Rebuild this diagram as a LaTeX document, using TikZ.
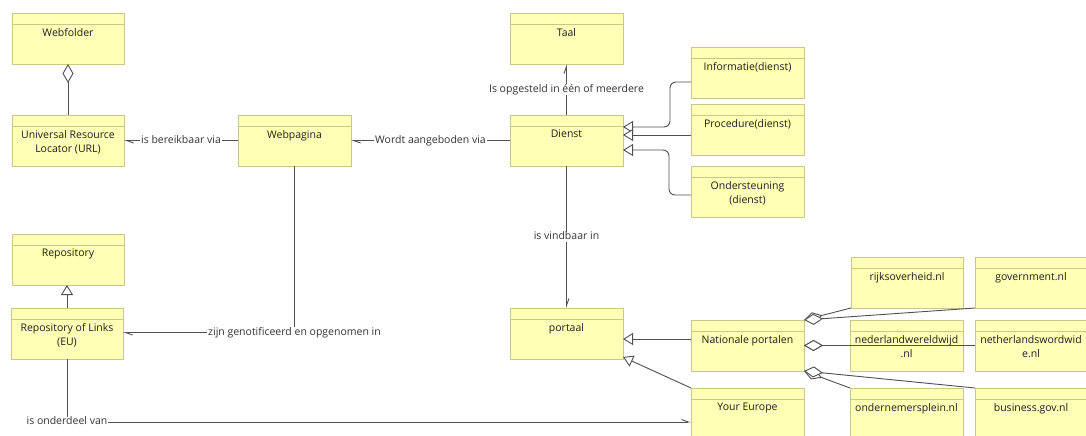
\documentclass[tikz,border=0pt]{standalone}
\usepackage{fontspec}
\setmainfont{Open Sans}
\usetikzlibrary{arrows.meta}

\definecolor{clsfill}{HTML}{FFFFB5}
\definecolor{clsline}{HTML}{C8C88A}
\definecolor{conn}{HTML}{505050}
\definecolor{txt}{HTML}{1E1E1E}
\definecolor{lbltxt}{HTML}{333333}

\newcommand\clsfont{\fontsize{10.5}{14}\selectfont}

\tikzset{
  x=1pt, y=-1pt,
  cls/.style={draw=clsline, fill=clsfill, line width=0.8pt, anchor=north west,
    minimum width=112pt, minimum height=51pt, inner sep=0pt, outer sep=0pt,
    path picture={\draw[clsline, line width=0.8pt]
      ([yshift=-11pt]path picture bounding box.north west) --
      ([yshift=-11pt]path picture bounding box.north east);}},
  wide/.style={minimum width=113pt},
  title/.style={label={[anchor=north, yshift=-15pt, align=center,
    font=\clsfont, text=txt, inner sep=0pt]north:{#1}}},
  lbl/.style={fill=white, inner xsep=1pt, inner ysep=0.5pt, font=\clsfont,
    text=lbltxt, text height=7.5pt, text depth=2pt},
  conline/.style={draw=conn, line width=0.9pt},
  assoc/.style={conline, -{Straight Barb[harpoon, length=7pt, width=5pt]}},
  gen/.style={conline, -{Triangle[fill=white, length=10pt, width=12pt]}},
  agg/.style={conline, {Diamond[fill=white, length=19pt, width=11pt]}-},
}

\begin{document}
\begin{tikzpicture}
\useasboundingbox (0,0) rectangle (1086,436);
\fill[white] (0,0) rectangle (1086,436);
\clip (0,0) rectangle (1086,436);

% classes
\node[cls, title=Webfolder] (webfolder) at (12,13) {};
\node[cls, title={Universal Resource\\Locator (URL)}] (url) at (12,115) {};
\node[cls, wide, title=Webpagina] (webpagina) at (238,115) {};
\node[cls, wide, title=Taal] (taal) at (510,13) {};
\node[cls, wide, title=Dienst] (dienst) at (510,115) {};
\node[cls, wide, title=Informatie(dienst)] (info) at (691,47) {};
\node[cls, wide, title=Procedure(dienst)] (proc) at (691,104) {};
\node[cls, wide, title={Ondersteuning\\(dienst)}] (onder) at (691,166) {};
\node[cls, title=Repository] (repo) at (12,234) {};
\node[cls, title={Repository of Links\\(EU)}] (rol) at (11,308) {};
\node[cls, wide, title=portaal] (portaal) at (510,308) {};
\node[cls, wide, title=Nationale portalen] (nat) at (691,320) {};
\node[cls, wide, title=Your Europe] (ye) at (691,388) {};
\node[cls, title=rijksoverheid.nl] (rijks) at (851,257) {};
\node[cls, title=government.nl] (gov) at (975,257) {};
\node[cls, wide, title={nederlandwereldwijd\\.nl}] (nedw) at (850,320) {};
\node[cls, title={netherlandswordwid\\e.nl}] (nethw) at (975,320) {};
\node[cls, wide, title=ondernemersplein.nl] (ondp) at (850,388) {};
\node[cls, title=business.gov.nl] (bus) at (975,388) {};

% aggregations
\draw[agg] (webfolder.south) -- (url.north);
\draw[agg] (nat.north east) -- (rijks.south west);
\draw[agg] (nat.north east) -- (gov.south west);
\draw[agg] (nat.east) -- (nedw.west);
\draw[agg] (nat.east) -- (nethw.west);
\draw[agg] (nat.south east) -- (ondp.north west);
\draw[agg] (nat.south east) -- (bus.north west);

% generalizations
\draw[gen, rounded corners=6pt] ([yshift=-9.5pt]info.west) -- ++(-21,0)
  |- ([yshift=13.5pt]dienst.east);
\draw[gen] ([yshift=-5.5pt]proc.west) -- ([yshift=-5.5pt]proc.west -| dienst.east);
\draw[gen, rounded corners=6pt] ([yshift=-3.5pt]onder.west) -- ++(-22,0)
  |- ([yshift=-9.5pt]dienst.east);
\draw[gen] (rol.north) -- (rol.north |- repo.south);
\draw[gen] ([yshift=6.5pt]nat.west) -- ([yshift=6.5pt]nat.west -| portaal.east);
\draw[gen] (ye.north west) -- ([yshift=2pt]portaal.south east);

% associations
\draw[assoc] (webpagina.west) -- node[lbl] {is bereikbaar via} (url.east);
\draw[assoc] (dienst.west) -- node[lbl] {Wordt aangeboden via} (webpagina.east);
\draw[assoc] (dienst.north) -- node[lbl] {Is opgesteld in één of meerdere} (taal.south);
\draw[assoc] (dienst.south) -- node[lbl] {is vindbaar in} (portaal.north);
\draw[assoc] (webpagina.south) |- node[lbl] {zijn genotificeerd en opgenomen in}
  ([yshift=1pt]rol.east);
\draw[assoc] (rol.south) |- node[lbl] {is onderdeel van} ([yshift=-8.5pt]ye.west);
\end{tikzpicture}
\end{document}
